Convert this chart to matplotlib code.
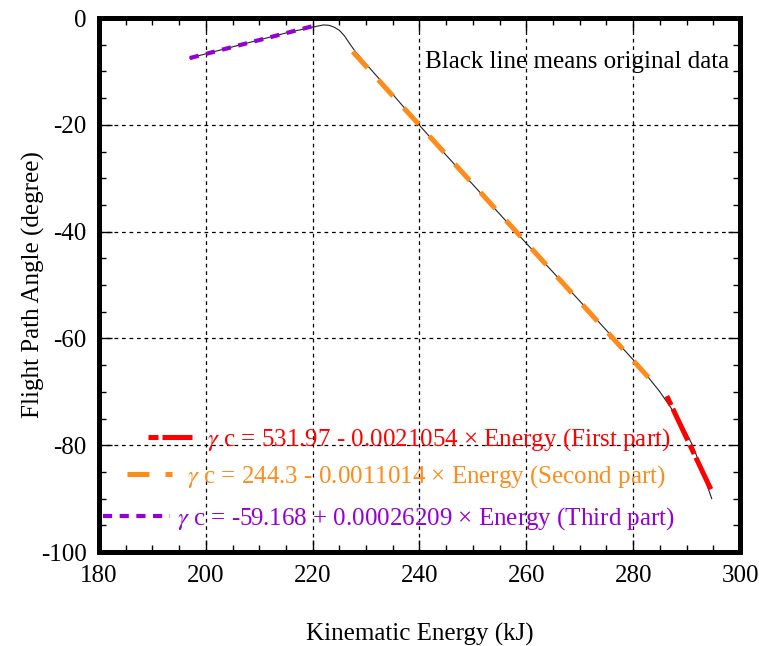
import matplotlib.pyplot as plt
from matplotlib.legend import Legend

plt.rcParams['font.family'] = ['Liberation Serif', 'DejaVu Serif']
plt.rcParams['mathtext.fontset'] = 'stix'
plt.rcParams['axes.unicode_minus'] = False

# original data (black line)
energy = [197, 200, 205, 210, 215, 220, 221, 222, 223, 224, 225, 226, 227, 228, 230,
          235, 240, 245, 250, 255, 260, 265, 270, 275, 280, 283, 285, 287, 289,
          290, 291, 292, 293, 294, 294.7]
angle = [-7.5, -6.7, -5.4, -4.1, -2.8, -1.7, -1.5, -1.3, -1.35, -1.7, -2.3, -3.4, -4.9, -6.3, -8.6,
         -14.3, -20.1, -25.7, -31.2, -36.7, -42.2, -47.6, -53.0, -58.5, -64.0, -67.5, -70.0, -72.9, -76.0,
         -77.8, -79.8, -82.3, -85.0, -88.0, -90.0]

# fitted parts (end points)
first_x = [286.3, 294.7]
first_y = [-70.8, -88.6]
second_x = [227.5, 283.5]
second_y = [-6.3, -68.0]
third_x = [197.0, 220.5]
third_y = [-7.5, -1.4]

labels = [r'$\gamma$ c = 531.97 - 0.0021054 × Energy (First part)',
          r'$\gamma$ c = 244.3 - 0.0011014 × Energy (Second part)',
          r'$\gamma$ c = -59.168 + 0.00026209 × Energy (Third part)']

fig = plt.figure(figsize=(7.59, 6.46), dpi=100)
ax = fig.add_axes([0.1304, 0.1455, 0.8446, 0.8266])

ax.plot(energy, angle, color='#222222', lw=0.8, zorder=2)
l1, = ax.plot(first_x, first_y, color='#ff0000', lw=3.6, dashes=(2, 0.8, 7, 1), zorder=3)
l2, = ax.plot(second_x, second_y, color='#ff8c1a', lw=3.6, dashes=(4.4, 3.2), zorder=3)
l3, = ax.plot(third_x, third_y, color='#9400d3', lw=3.0, dashes=(2.2, 1.8), zorder=3)

ax.set_xlim(180, 300)
ax.set_ylim(-100, 0)
ax.set_xticks(range(180, 301, 20))
ax.set_yticks(range(-100, 1, 20))
ax.set_xticks(range(180, 301, 5), minor=True)
ax.set_yticks(range(-100, 1, 5), minor=True)
ax.tick_params(which='both', direction='in', top=True, right=True, labelsize=18, color='black')
ax.tick_params(which='major', length=9, width=1, pad=9)
ax.tick_params(which='minor', length=5, width=1)
ax.grid(True, which='major', color='black', linestyle=(0, (3, 3)), linewidth=0.9)
for sp in ax.spines.values():
    sp.set_linewidth(3.6)

ax.set_xlabel('Kinematic Energy (kJ)', fontsize=18, labelpad=26)
ax.set_ylabel('Flight Path Angle (degree)', fontsize=18, labelpad=-3)

ax.text(241.0, -8.2, 'Black line means original data', fontsize=18, va='center', ha='left')

# separate legend rows, as in the original
rows = [(l1, labels[0], 0.0764, 0.2097, 1.76, 0.6),
        (l2, labels[1], 0.0437, 0.1404, 1.8, 0.6),
        (l3, labels[2], 0.0062, 0.0618, 2.68, 0.28)]
for h, lab, xa, ya, hl, tp in rows:
    leg = Legend(ax, [h], [lab], loc='center left', bbox_to_anchor=(xa, ya),
                 frameon=False, fontsize=18, handlelength=hl, handletextpad=tp,
                 borderpad=0, borderaxespad=0, labelcolor='linecolor')
    ax.add_artist(leg)

plt.savefig('out.png', dpi=100)
